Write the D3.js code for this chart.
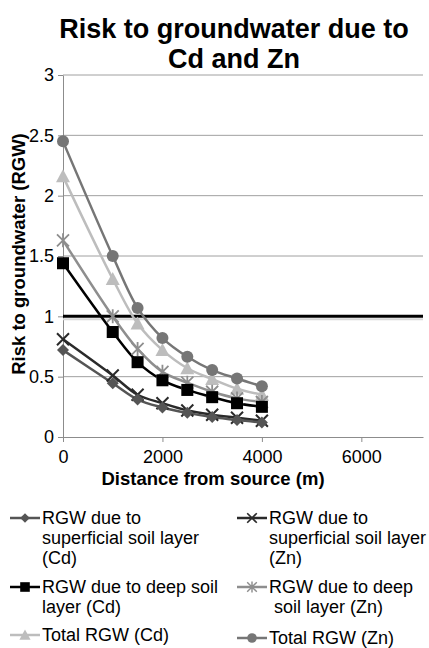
<!DOCTYPE html>
<html>
<head>
<meta charset="utf-8">
<script src="https://cdn.jsdelivr.net/npm/d3@7"></script>
<style>
  body { margin: 0; background: #fff; }
  svg { display: block; font-family: "Liberation Sans", Arial, sans-serif; }
  .grid line { stroke: #a0a0a0; stroke-width: 1; }
  .axis path, .axis line { stroke: #8c8c8c; }
  .axis text { font-size: 18px; fill: #000; }
</style>
</head>
<body>
<div id="chart"></div>
<script>
// distance from source (m)
var distance = [0, 1000, 1500, 2000, 2500, 3000, 3500, 4000];

// RGW series
var cdSuperficial = [0.72, 0.445, 0.31, 0.245, 0.2, 0.165, 0.14, 0.12];
var cdDeep = [1.44, 0.87, 0.62, 0.47, 0.39, 0.33, 0.28, 0.25];
var cdTotal = [2.16, 1.31, 0.94, 0.72, 0.57, 0.48, 0.40, 0.35];
var znSuperficial = [0.81, 0.51, 0.35, 0.28, 0.22, 0.185, 0.16, 0.135];
var znDeep = [1.63, 1.0, 0.73, 0.54, 0.45, 0.375, 0.32, 0.29];
var znTotal = [2.45, 1.50, 1.07, 0.82, 0.665, 0.555, 0.485, 0.42];

// threshold RGW = 1
var threshold = 1;

var xTicks = [0, 2000, 4000, 6000];
var yTicks = [0, 0.5, 1, 1.5, 2, 2.5, 3];

var series = [
    {name: ["RGW due to", "superficial soil layer", "(Cd)"], values: cdSuperficial, color: "#555555", marker: "diamond"},
    {name: ["RGW due to deep soil", "layer (Cd)"], values: cdDeep, color: "#000000", marker: "square"},
    {name: ["Total RGW (Cd)"], values: cdTotal, color: "#bdbdbd", marker: "triangle"},
    {name: ["RGW due to", "superficial soil layer", "(Zn)"], values: znSuperficial, color: "#2a2a2a", marker: "x"},
    {name: ["RGW due to deep", " soil layer (Zn)"], values: znDeep, color: "#8e8e8e", marker: "star"},
    {name: ["Total RGW (Zn)"], values: znTotal, color: "#767676", marker: "circle"}
];

var width = 429,
    height = 648;

var svg = d3.select("#chart").append("svg")
    .attr("width", width)
    .attr("height", height);

var x = d3.scaleLinear().domain([0, 7240]).range([63, 423]);
var y = d3.scaleLinear().domain([0, 3]).range([437, 75]);

// title
svg.append("text")
    .attr("x", 234).attr("y", 38)
    .attr("text-anchor", "middle")
    .style("font-size", "27px").style("font-weight", "bold")
    .text("Risk to groundwater due to");
svg.append("text")
    .attr("x", 234).attr("y", 68)
    .attr("text-anchor", "middle")
    .style("font-size", "27px").style("font-weight", "bold")
    .text("Cd and Zn");

// gridlines
svg.append("g").attr("class", "grid")
    .selectAll("line")
    .data(yTicks.filter(function(d) { return d > 0; }))
    .enter().append("line")
    .attr("x1", x(0)).attr("x2", x.range()[1])
    .attr("y1", function(d) { return y(d); })
    .attr("y2", function(d) { return y(d); });

// axes
svg.append("g").attr("class", "axis")
    .attr("transform", "translate(" + x(0) + ",0)")
    .call(d3.axisLeft(y).tickValues(yTicks).tickSize(5).tickSizeOuter(0)
        .tickFormat(function(d) { return d; }))
    .selectAll("text").attr("dx", "-1px");

svg.append("g").attr("class", "axis")
    .attr("transform", "translate(0," + y(0) + ")")
    .call(d3.axisBottom(x).tickValues(xTicks).tickSize(5).tickSizeOuter(0)
        .tickFormat(d3.format("d")))
    .selectAll("text").attr("dy", "1.0em");

// axis titles
svg.append("text")
    .attr("transform", "translate(25," + (y(1.5) - 2) + ") rotate(-90)")
    .attr("text-anchor", "middle")
    .style("font-size", "18.5px").style("font-weight", "bold")
    .text("Risk to groundwater (RGW)");

svg.append("text")
    .attr("x", 213).attr("y", 485)
    .attr("text-anchor", "middle")
    .style("font-size", "18.5px").style("font-weight", "bold")
    .text("Distance from source (m)");

// threshold line
svg.append("line")
    .attr("x1", x(0)).attr("x2", x.range()[1])
    .attr("y1", y(threshold) + 3).attr("y2", y(threshold) + 3)
    .style("stroke", "#d8d8d8").style("stroke-width", 2);
svg.append("line")
    .attr("x1", x(0)).attr("x2", x.range()[1])
    .attr("y1", y(threshold)).attr("y2", y(threshold))
    .style("stroke", "#000").style("stroke-width", 3);

var line = d3.line()
    .x(function(d, i) { return x(distance[i]); })
    .y(function(d) { return y(d); })
    .curve(d3.curveCatmullRom.alpha(0.5));

function drawMarker(g, type, color) {
    if (type === "circle") {
        g.append("circle").attr("r", 6).style("fill", color);
    } else if (type === "square") {
        g.append("rect").attr("x", -6).attr("y", -6).attr("width", 12).attr("height", 12).style("fill", color);
    } else if (type === "triangle") {
        g.append("path").attr("d", "M0,-7L7,6L-7,6Z").style("fill", color);
    } else if (type === "diamond") {
        g.append("path").attr("d", "M0,-6L6,0L0,6L-6,0Z").style("fill", color);
    } else if (type === "x") {
        g.append("path").attr("d", "M-6,-6L6,6M-6,6L6,-6").style("stroke", color).style("stroke-width", 2).style("fill", "none");
    } else if (type === "star") {
        g.append("path").attr("d", "M-6,-6L6,6M-6,6L6,-6M0,-7L0,7").style("stroke", color).style("stroke-width", 1.8).style("fill", "none");
    }
}

var order = [2, 5, 4, 1, 3, 0];
order.forEach(function(si) {
    var s = series[si];
    svg.append("path")
        .datum(s.values)
        .attr("d", line)
        .style("fill", "none")
        .style("stroke", s.color)
        .style("stroke-width", 2.5);
});
order.forEach(function(si) {
    var s = series[si];
    s.values.forEach(function(v, i) {
        var g = svg.append("g").attr("transform", "translate(" + x(distance[i]) + "," + y(v) + ")");
        drawMarker(g, s.marker, s.color);
    });
});

// legend
var legendPos = [
    {x: 10, y: 518}, {x: 10, y: 587}, {x: 10, y: 635},
    {x: 237, y: 518}, {x: 237, y: 587}, {x: 237, y: 638}
];
series.forEach(function(s, i) {
    var p = legendPos[i];
    var lg = svg.append("g").attr("transform", "translate(" + p.x + "," + p.y + ")");
    lg.append("line").attr("x1", 0).attr("x2", 30).attr("y1", 0).attr("y2", 0)
        .style("stroke", s.color).style("stroke-width", 2.5);
    var mg = lg.append("g").attr("transform", "translate(15,0) scale(0.8)");
    drawMarker(mg, s.marker, s.color);
    var t = lg.append("text").attr("x", 32).attr("y", 6).style("font-size", "18px");
    s.name.forEach(function(n, j) {
        t.append("tspan").attr("x", 32).attr("dy", j === 0 ? 0 : 20).text(n);
    });
});
</script>
</body>
</html>
